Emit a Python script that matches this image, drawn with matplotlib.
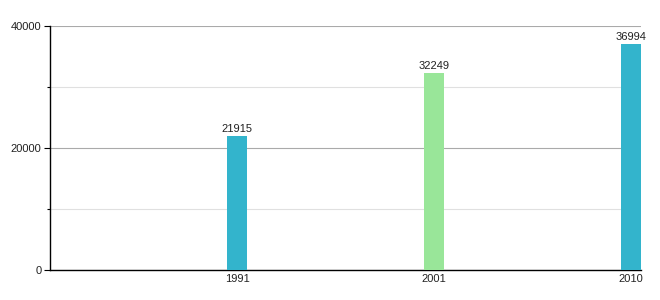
#!/usr/bin/env python3
"""Bar chart of values for 1991, 2001 and 2010."""

import matplotlib

matplotlib.use('Agg')
import matplotlib.pyplot as plt
from matplotlib.ticker import MultipleLocator

years = ['1991', '2001', '2010']
values = [21915, 32249, 36994]
bar_colors = ['#33b4cc', '#99e699', '#33b4cc']

plt.rcParams['font.family'] = ['Liberation Sans', 'DejaVu Sans']

fig = plt.figure(figsize=(6.6, 3.0), dpi=100)
ax = fig.add_axes([50 / 660, 30 / 300, 591 / 660, 244 / 300])

positions = list(range(len(years)))
bars = ax.bar(positions, values, width=0.1015, color=bar_colors, zorder=3)

# value labels on top of bars
for rect, val in zip(bars, values):
    ax.annotate(
        str(val),
        (rect.get_x() + rect.get_width() / 2, rect.get_height()),
        xytext=(0, 2),
        textcoords='offset points',
        ha='center',
        va='bottom',
        fontsize=8,
        color='#222222',
    )

ax.set_xlim(-0.95, 2.05)
ax.set_ylim(0, 40000)
ax.set_xticks(positions)
ax.set_xticklabels(years)

ax.yaxis.set_major_locator(MultipleLocator(20000))
ax.yaxis.set_minor_locator(MultipleLocator(10000))
ax.grid(True, axis='y', which='major', color='#aaaaaa', linewidth=0.8, zorder=0)
ax.grid(True, axis='y', which='minor', color='#e0e0e0', linewidth=0.8, zorder=0)

for side in ['top', 'right']:
    ax.spines[side].set_visible(False)
ax.spines['left'].set_linewidth(1.0)
ax.spines['bottom'].set_linewidth(1.0)

ax.tick_params(axis='x', length=0, pad=3, labelsize=8, labelcolor='#222222')
ax.tick_params(axis='y', which='major', length=4, width=0.8, pad=2, labelsize=8, labelcolor='#222222')
ax.tick_params(axis='y', which='minor', length=2, width=0.8)

plt.savefig('out.png', dpi=100)
plt.close('all')
